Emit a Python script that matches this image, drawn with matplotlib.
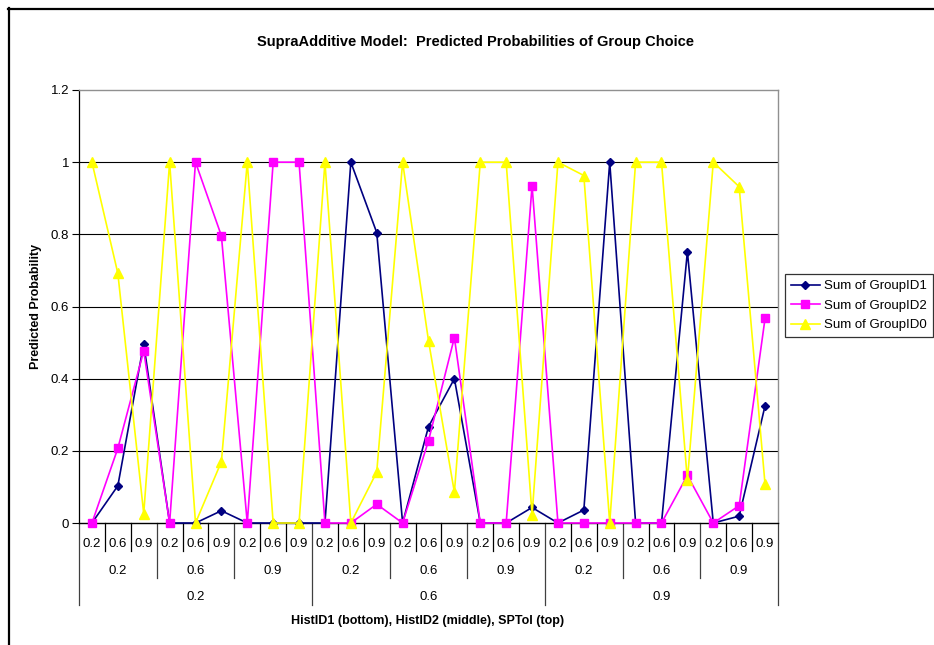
import matplotlib
matplotlib.use("Agg")
import matplotlib.pyplot as plt
from matplotlib.lines import Line2D
import numpy as np

plt.rcParams['font.family'] = ['Liberation Sans', 'DejaVu Sans']

# Category levels: SPTol (outer), HistID2 (middle), HistID1 (inner)
sptol_levels = ["0.2", "0.6", "0.9"]
histid2_levels = ["0.2", "0.6", "0.9"]
histid1_levels = ["0.2", "0.6", "0.9"]

series_names = ["Sum of GroupID1", "Sum of GroupID2", "Sum of GroupID0"]

group_id1 = [0, 0.103, 0.497, 0, 0, 0.034, 0, 0, 0,
             0, 1.0, 0.805, 0, 0.267, 0.400, 0, 0, 0.043,
             0, 0.036, 1.0, 0, 0, 0.752, 0, 0.019, 0.325]
group_id2 = [0, 0.207, 0.477, 0, 1.0, 0.796, 0, 1.0, 1.0,
             0, 0, 0.052, 0, 0.228, 0.514, 0, 0, 0.935,
             0, 0, 0, 0, 0, 0.132, 0, 0.048, 0.567]
group_id0 = [1.0, 0.692, 0.026, 1.0, 0, 0.170, 1.0, 0, 0,
             1.0, 0, 0.141, 1.0, 0.505, 0.085, 1.0, 1.0, 0.022,
             1.0, 0.963, 0, 1.0, 1.0, 0.118, 1.0, 0.932, 0.107]

W, H = 934, 645
fig = plt.figure(figsize=(W / 100, H / 100), dpi=100)
fig.patch.set_facecolor("white")

left, right, top, bottom = 79, 778, 90, 523
ax = fig.add_axes([left / W, 1 - bottom / H, (right - left) / W, (bottom - top) / H])

n = len(group_id1)
x = np.arange(n)

styles = [
    dict(color="#000080", marker="D", markersize=4.5),
    dict(color="#FF00FF", marker="s", markersize=6),
    dict(color="#FFFF00", marker="^", markersize=7),
]
handles = []
for vals, name, st in zip([group_id1, group_id2, group_id0], series_names, styles):
    h, = ax.plot(x, vals, color=st["color"], lw=1.2, marker=st["marker"],
                 markersize=st["markersize"], markerfacecolor=st["color"],
                 markeredgecolor=st["color"], label=name, clip_on=False, zorder=3)
    handles.append(h)

ax.set_xlim(-0.5, n - 0.5)
ax.set_ylim(0, 1.2)
ax.set_yticks(np.arange(0, 1.21, 0.2))
ax.set_yticklabels(["0", "0.2", "0.4", "0.6", "0.8", "1", "1.2"])
ax.tick_params(axis="y", direction="out", length=5, width=0.8, pad=2,
               labelsize=9.5, colors="black")
ax.set_xticks([])

for yv in np.arange(0.2, 1.01, 0.2):
    ax.axhline(yv, color="black", lw=0.8, zorder=1)

ax.spines["left"].set_color("black")
ax.spines["left"].set_linewidth(0.9)
ax.spines["bottom"].set_color("black")
ax.spines["bottom"].set_linewidth(1.0)
ax.spines["top"].set_color("#909090")
ax.spines["top"].set_linewidth(1.0)
ax.spines["right"].set_color("#909090")
ax.spines["right"].set_linewidth(1.0)

# Multi-level category axis below the plot
trans = ax.get_xaxis_transform()
ph = bottom - top
def yfrac(py):
    return -(py - bottom) / ph

y_inner_end = yfrac(551)
y_mid_end = yfrac(578)
y_outer_end = yfrac(605)

for b in range(n + 1):
    xb = b - 0.5
    if b % 9 == 0:
        yend, col = y_outer_end, "#404040"
    elif b % 3 == 0:
        yend, col = y_mid_end, "#404040"
    else:
        yend, col = y_inner_end, "black"
    ax.plot([xb, xb], [0, yend], transform=trans, color=col, lw=0.9, clip_on=False)

labels_fs = 9.5
for i in range(n):
    ax.text(i, yfrac(544), histid1_levels[i % 3], transform=trans,
            ha="center", va="center", fontsize=labels_fs)
for j in range(9):
    ax.text(3 * j + 1, yfrac(571), histid2_levels[j % 3], transform=trans,
            ha="center", va="center", fontsize=labels_fs)
for k in range(3):
    ax.text(9 * k + 4, yfrac(597), sptol_levels[k], transform=trans,
            ha="center", va="center", fontsize=labels_fs)

fig.text(428 / W, 1 - 621 / H, "HistID1 (bottom), HistID2 (middle), SPTol (top)",
         ha="center", va="center", fontsize=9, fontweight="bold")
fig.text(36 / W, 1 - 306 / H, "Predicted Probability", rotation=90,
         ha="center", va="center", fontsize=9, fontweight="bold")
fig.text(476 / W, 1 - 42 / H,
         "SupraAdditive Model:  Predicted Probabilities of Group Choice",
         ha="center", va="center", fontsize=10.5, fontweight="bold")

leg = fig.legend(handles=handles, loc="upper left",
                 bbox_to_anchor=(785 / W, 1 - 274 / H),
                 fontsize=9.5, frameon=True, fancybox=False,
                 borderpad=0.45, labelspacing=0.55, handlelength=2.2,
                 handletextpad=0.3, borderaxespad=0)
leg.get_frame().set_edgecolor("black")
leg.get_frame().set_linewidth(0.9)

# Chart-area frame
fig.add_artist(Line2D([8 / W, 1.0], [1 - 8.5 / H, 1 - 8.5 / H],
                      transform=fig.transFigure, color="black", lw=1.6))
fig.add_artist(Line2D([8.5 / W, 8.5 / W], [0.0, 1 - 8 / H],
                      transform=fig.transFigure, color="black", lw=1.6))

fig.savefig("out.png", dpi=100)
